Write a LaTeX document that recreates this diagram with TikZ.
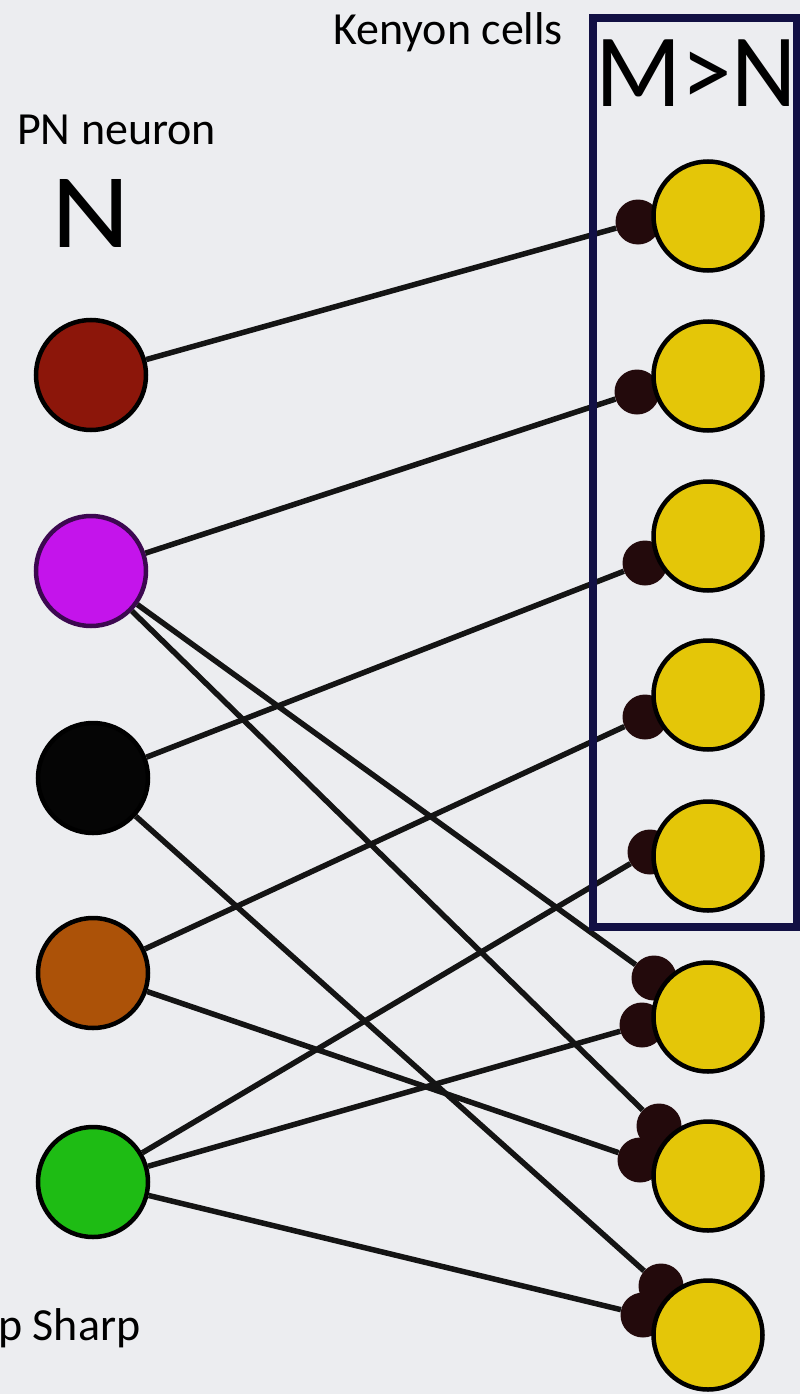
\documentclass[tikz,border=0pt]{standalone}
\usepackage{fontspec}
\setmainfont{Carlito}
\usetikzlibrary{calc}

\definecolor{bgpaper}{RGB}{236,237,240}
\definecolor{pnred}{RGB}{140,22,10}
\definecolor{pnmagenta}{RGB}{196,20,235}
\definecolor{pnrim}{RGB}{60,8,80}
\definecolor{pnblack}{RGB}{5,5,5}
\definecolor{pnbrown}{RGB}{172,82,8}
\definecolor{pngreen}{RGB}{30,188,20}
\definecolor{kcyellow}{RGB}{228,198,8}
\definecolor{synapse}{RGB}{35,10,12}
\definecolor{boxnavy}{RGB}{18,16,68}

\tikzset{
  pn/.style={circle, draw=black, line width=4.5pt, minimum size=110pt, inner sep=0pt},
  kc/.style={circle, draw=black, line width=4.5pt, fill=kcyellow, minimum size=109pt, inner sep=0pt},
  syn/.style={circle, fill=synapse, minimum size=45pt, inner sep=0pt},
  axon/.style={line width=5.5pt, black!92},
  txt/.style={font=\fontsize{46}{50}\selectfont, inner sep=0pt, anchor=base west}
}

\begin{document}
\begin{tikzpicture}[x=1pt, y=-1pt]
  \useasboundingbox (0,0) rectangle (800,1394);
  \fill[bgpaper] (0,0) rectangle (800,1394);

  % Text labels
  \node[txt] (kclabel) at (333,45) {Kenyon cells};
  \node[txt] (pnlabel) at (17,145) {PN neuron};
  \node[txt] (credit) at (-2,1340) {p Sharp};
  \node[inner sep=0pt, anchor=base, font=\fontsize{106}{110}\selectfont] (nsym) at (91,247) {\scalebox{1.15}[1]{N}};

  % PN neurons (left column)
  \node[pn, fill=pnred] (pnA) at (91,375) {};
  \node[pn, fill=pnmagenta, draw=pnrim] (pnB) at (91,571) {};
  \node[pn, fill=pnblack] (pnC) at (93,778) {};
  \node[pn, fill=pnbrown] (pnD) at (93,973) {};
  \node[pn, fill=pngreen] (pnE) at (93,1182) {};

  % Kenyon cell centres (right column)
  \coordinate (k1) at (708,216);
  \coordinate (k2) at (708,376);
  \coordinate (k3) at (708,536);
  \coordinate (k4) at (708,695);
  \coordinate (k5) at (708,856);
  \coordinate (k6) at (708,1017);
  \coordinate (k7) at (708,1176);
  \coordinate (k8) at (708,1335);

  % Synapses on the left rim of each Kenyon cell
  \node[syn] (s1) at ($(k1)+(-70,6)$) {};
  \node[syn] (s2) at ($(k2)+(-71,16)$) {};
  \node[syn] (s3) at ($(k3)+(-63,27)$) {};
  \node[syn] (s4) at ($(k4)+(-63,22)$) {};
  \node[syn] (s5) at ($(k5)+(-58,-4)$) {};
  \node[syn] (s6a) at ($(k6)+(-54,-39)$) {};
  \node[syn] (s6b) at ($(k6)+(-66,8)$) {};
  \node[syn] (s7a) at ($(k7)+(-49,-50)$) {};
  \node[syn] (s7b) at ($(k7)+(-68,-16)$) {};
  \node[syn] (s8a) at ($(k8)+(-47,-49)$) {};
  \node[syn] (s8b) at ($(k8)+(-65,-20)$) {};

  % Axons (PN -> KC)
  \draw[axon] (pnA) -- (s1);
  \draw[axon] (pnB) -- (s2);
  \draw[axon] (pnB) -- (s6a);
  \draw[axon] (pnB) -- (s7a);
  \draw[axon] (pnC) -- (s3);
  \draw[axon] (pnC) -- (s8a);
  \draw[axon] (pnD) -- (s4);
  \draw[axon] (pnD) -- (s7b);
  \draw[axon] (pnE) -- (s5);
  \draw[axon] (pnE) -- (s6b);
  \draw[axon] (pnE) -- (s8b);

  % The M>N box
  \draw[boxnavy, line width=8pt] (593,18) rectangle (797,927);
  \node[inner sep=0pt, anchor=base west, font=\fontsize{104}{108}\selectfont] (mn) at (595,107) {\scalebox{0.97}[1]{M>N}};

  % Kenyon cells drawn last so they sit over the synapses
  \node[kc] (kcA) at (k1) {};
  \node[kc] (kcB) at (k2) {};
  \node[kc] (kcC) at (k3) {};
  \node[kc] (kcD) at (k4) {};
  \node[kc] (kcE) at (k5) {};
  \node[kc] (kcF) at (k6) {};
  \node[kc] (kcG) at (k7) {};
  \node[kc] (kcH) at (k8) {};
\end{tikzpicture}
\end{document}
